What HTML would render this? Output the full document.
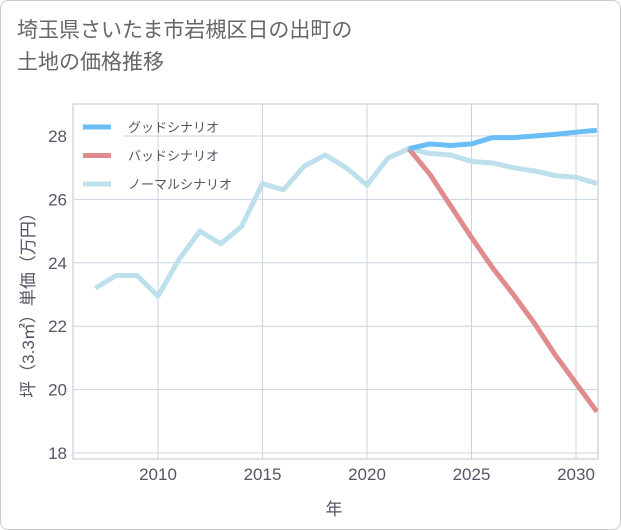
<!DOCTYPE html>
<html><head><meta charset="utf-8"><style>
body{margin:0;background:#fff;font-family:"Liberation Sans","Noto Sans CJK JP",sans-serif;}
#wrap{position:relative;width:619px;height:528px;border:1px solid #ccc;border-radius:8px;overflow:hidden;background:#fff}
#title{position:absolute;left:16px;top:14px;font-size:21px;line-height:32px;color:#666;font-family:"Liberation Sans","Noto Sans CJK JP",sans-serif;}
svg{position:absolute;left:0;top:0}
</style></head><body>
<div id="wrap">
<div id="title">埼玉県さいたま市岩槻区日の出町の<br>土地の価格推移</div>
<svg id="chart" width="621" height="530"></svg>
</div>
<script>
const years=[2007,2008,2009,2010,2011,2012,2013,2014,2015,2016,2017,2018,2019,2020,2021,2022,2023,2024,2025,2026,2027,2028,2029,2030,2031];
const normal=[23.2,23.6,23.6,22.95,24.1,25.0,24.6,25.15,26.5,26.3,27.05,27.4,27.0,26.45,27.3,27.6,27.45,27.4,27.2,27.15,27.0,26.9,26.75,26.7,26.5];
const futureYears=[2022,2023,2024,2025,2026,2027,2028,2029,2030,2031];
const good=[27.6,27.75,27.7,27.75,27.95,27.95,28.0,28.05,28.12,28.18];
const bad=[27.6,26.8,25.8,24.8,23.85,23.0,22.1,21.1,20.2,19.3];
const yTicks=[18,20,22,24,26,28];
const xTicks=[2010,2015,2020,2025,2030];
const L=72,R=597,T=103,B=458;
const X=y=>157+(y-2010)*20.9;
const Y=v=>135+(28-v)*31.7;
const svg=document.getElementById('chart');
const NS='http://www.w3.org/2000/svg';
function el(t,a){const e=document.createElementNS(NS,t);for(const k in a)e.setAttribute(k,a[k]);svg.appendChild(e);return e;}
const frame=el('rect',{x:L,y:T,width:R-L,height:B-T,fill:'none',stroke:'#b8c4d0'});


yTicks.forEach(v=>{const g=el('line',{x1:L,x2:R,y1:Y(v),y2:Y(v),stroke:'#c8d4e0'});


const t=el('text',{x:L-6,y:Y(v)+6,'text-anchor':'end','font-size':17,fill:'#556'});t.textContent=v;

});
xTicks.forEach(v=>{const g=el('line',{x1:X(v),x2:X(v),y1:T,y2:B,stroke:'#c8d4e0'});


const t=el('text',{x:X(v),y:B+21,'text-anchor':'middle','font-size':17,fill:'#556'});t.textContent=v;

});
const clip=el('clipPath',{id:'c'});const cr=document.createElementNS(NS,'rect');cr.setAttribute('x',L);cr.setAttribute('y',T);cr.setAttribute('width',R-L);cr.setAttribute('height',B-T);clip.appendChild(cr);
function line(xs,vs,c,name){const p=el('polyline',{points:xs.map((x,i)=>X(x)+','+Y(vs[i])).join(' '),fill:'none',stroke:c,'stroke-width':5,'stroke-linejoin':'round','clip-path':'url(#c)'});

}
line(years,normal,'#bde0ec','normal-scenario-line');
line(futureYears,bad,'#e08c8f','bad-scenario-line');
line(futureYears,good,'#6bbef5','good-scenario-line');
const lg=el('rect',{x:74,y:110,width:48,height:88,fill:'#fff'});


[['グッドシナリオ','#6bbef5'],['バッドシナリオ','#e08c8f'],['ノーマルシナリオ','#bde0ec']].forEach((d,i)=>{const y=126+i*28.5;
const s=el('line',{x1:82,x2:110,y1:y,y2:y,stroke:d[1],'stroke-width':5});


const t=el('text',{x:127,y:y+5,'font-size':13,fill:'#556'});t.textContent=d[0];

});
const xt=el('text',{x:333,y:514,'text-anchor':'middle','font-size':17,fill:'#556'});xt.textContent='年';


const yt=el('text',{x:0,y:0,'text-anchor':'middle','font-size':17,fill:'#556',transform:'translate(33,300) rotate(-90)'});yt.textContent='坪（3.3㎡）単価（万円）';


</script>
</body></html>
